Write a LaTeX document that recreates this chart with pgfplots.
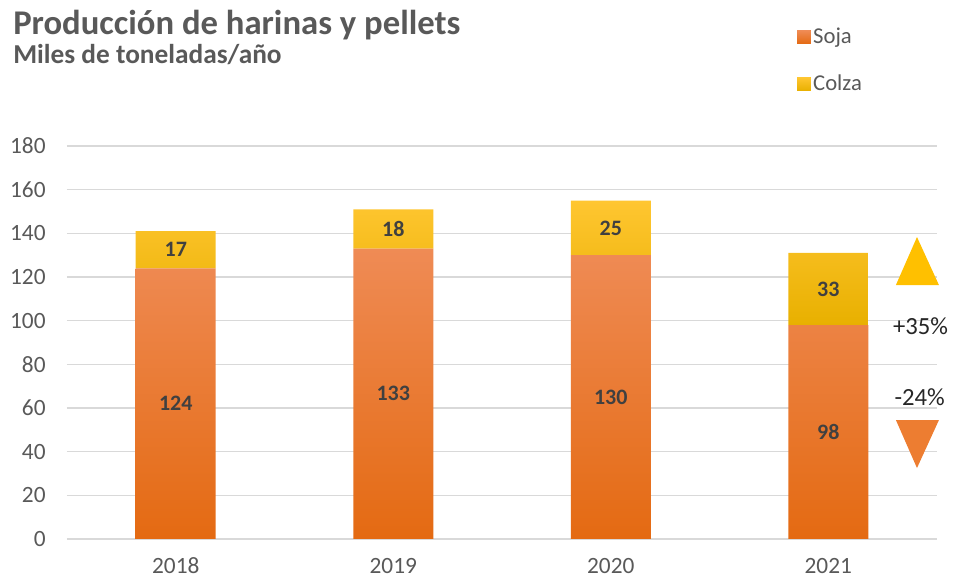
\documentclass[border=0pt]{standalone}
\usepackage{fontspec}
\setmainfont{Carlito}
\usepackage{pgfplots}
\pgfplotsset{compat=1.18}

\definecolor{txtgray}{HTML}{595959}
\definecolor{lblgray}{HTML}{404040}
\definecolor{gridgray}{HTML}{D9D9D9}
\definecolor{soja}{HTML}{ED7D31}
\definecolor{sojatop}{HTML}{EF8B55}
\definecolor{sojabot}{HTML}{E46A12}
\definecolor{colza}{HTML}{FFC000}
\definecolor{colzatop}{HTML}{FFC631}
\definecolor{colzabot}{HTML}{E8B000}

\tikzset{
    vlab/.style={font=\bfseries\fontsize{16.5}{18}\selectfont, text=lblgray},
    pct/.style={font=\fontsize{18.5}{20}\selectfont, text=black!85},
}

\begin{document}
\begin{tikzpicture}
\begin{axis}[
    scale only axis,
    width=652.5pt, height=294.75pt,
    ybar stacked, bar width=60pt,
    xmin=-0.5, xmax=3.5, ymin=0, ymax=180,
    xtick={0,1,2,3}, xticklabels={2018,2019,2020,2021},
    ytick={0,20,...,180},
    axis line style={draw=none},
    major tick length=0pt,
    ymajorgrids, grid style={gridgray, line width=0.9pt},
    tick label style={font=\fontsize{17.5}{20}\selectfont, text=txtgray},
    /pgf/number format/assume math mode=true,
    yticklabel style={xshift=-12.5pt},
    xticklabel style={inner sep=0pt, yshift=-14pt},
    clip=false,
    legend style={at={(0.839,1.307)}, anchor=north west, draw=none, fill=none,
        inner sep=0pt, row sep=18pt, font=\fontsize{17}{19}\selectfont,
        text=txtgray, cells={anchor=west}},
]
% Soja
\addplot[draw=none, top color=sojatop, bottom color=sojabot,
    legend image code/.code={\fill[soja] (0pt,-5pt) rectangle (10pt,5pt);}]
    coordinates {(0,124) (1,133) (2,130) (3,98)};
\addlegendentry{Soja}
% Colza
\addplot[draw=none, top color=colzatop, bottom color=colzabot,
    legend image code/.code={\fill[colza] (0pt,-5pt) rectangle (10pt,5pt);}]
    coordinates {(0,17) (1,18) (2,25) (3,33)};
\addlegendentry{Colza}

% label positions (segment centres)
\coordinate (s0) at (axis cs:0,62);
\coordinate (s1) at (axis cs:1,66.5);
\coordinate (s2) at (axis cs:2,65);
\coordinate (s3) at (axis cs:3,49);
\coordinate (c0) at (axis cs:0,132.5);
\coordinate (c1) at (axis cs:1,142);
\coordinate (c2) at (axis cs:2,142.5);
\coordinate (c3) at (axis cs:3,114.5);

% change markers
\fill[colza] (axis cs:3.408,138.3) -- (axis cs:3.311,116.3) -- (axis cs:3.509,116.3) -- cycle;
\fill[soja] (axis cs:3.311,54.5) -- (axis cs:3.509,54.5) -- (axis cs:3.408,32.5) -- cycle;
\node[pct] at (axis cs:3.424,97.5) {+35\%};
\node[pct] at (axis cs:3.42,65) {-24\%};
\end{axis}

\node[vlab] at (s0) {124};
\node[vlab] at (s1) {133};
\node[vlab] at (s2) {130};
\node[vlab] at (s3) {98};
\node[vlab] at (c0) {17};
\node[vlab] at (c1) {18};
\node[vlab] at (c2) {25};
\node[vlab] at (c3) {33};

\node[anchor=base west, inner sep=0pt, font=\bfseries\fontsize{26}{30}\selectfont, text=txtgray]
    at ([shift={(-40.5pt,83.5pt)}]current axis.north west) {Producción de harinas y pellets};
\node[anchor=base west, inner sep=0pt, font=\bfseries\fontsize{20.5}{24}\selectfont, text=txtgray]
    at ([shift={(-40.5pt,62pt)}]current axis.north west) {Miles de toneladas/año};

\pgfresetboundingbox
\path ([shift={(-50.25pt,-30.75pt)}]current axis.south west)
    rectangle ([shift={(12pt,109.5pt)}]current axis.north east);
\end{tikzpicture}
\end{document}
